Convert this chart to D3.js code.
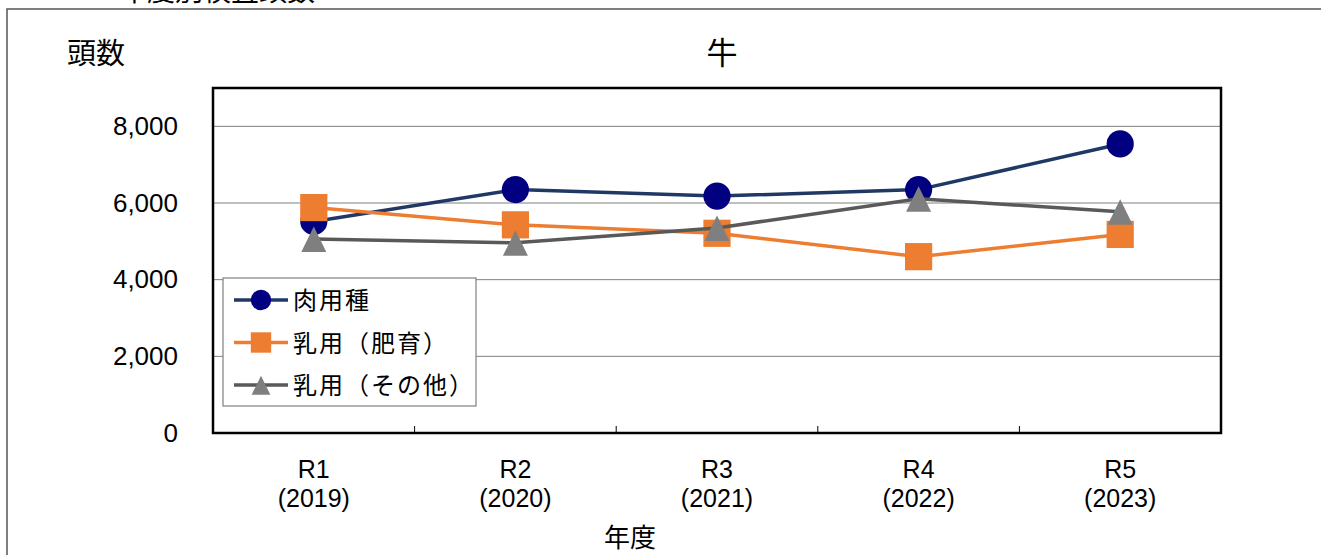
<!DOCTYPE html>
<html><head><meta charset="utf-8">
<script src="https://cdn.jsdelivr.net/npm/d3@7"></script>
<style>html,body{margin:0;padding:0;background:#fff;overflow:hidden}</style>
</head><body>
<svg id="c" width="1321" height="555"></svg>
<script>
const categories = ["R1", "R2", "R3", "R4", "R5"];
const yearLabels = ["(2019)", "(2020)", "(2021)", "(2022)", "(2023)"];
const meat = [5520, 6350, 6180, 6350, 7540];
const dairyFatten = [5880, 5430, 5210, 4600, 5180];
const dairyOther = [5060, 4960, 5350, 6110, 5770];
const seriesNames = ["肉用種", "乳用（肥育）", "乳用（その他）"];
const yTicks = [0, 2000, 4000, 6000, 8000];

const FONT = "'Noto Sans CJK JP', 'Noto Sans', sans-serif";
const LAT = "'Liberation Sans', Arial, sans-serif";
const svg = d3.select("#c");
const m = {l: 213, t: 88, r: 1221, b: 433};

const x = d3.scaleBand().domain(categories).range([m.l, m.r]);
const y = d3.scaleLinear().domain([0, 9000]).range([m.b, m.t]);

// outer frame (partial)
svg.append("path").attr("d", `M7,560 L7,9 L1330,9`).attr("fill", "none")
  .attr("stroke", "#555").attr("stroke-width", 1.5);
// clipped outer title
svg.append("text").attr("x", 217).attr("y", 1).attr("text-anchor", "middle")
  .style("font-family", FONT).style("font-size", "28px").attr("fill", "#000").text("年度別検査頭数");

// gridlines
svg.append("g").selectAll("line").data(yTicks.filter(d => d > 0)).join("line")
  .attr("x1", m.l).attr("x2", m.r).attr("y1", d => y(d)).attr("y2", d => y(d))
  .attr("stroke", "#7f7f7f").attr("stroke-width", 1);

// y axis labels
const yAxis = d3.axisLeft(y).tickValues(yTicks).tickSize(0).tickPadding(35)
  .tickFormat(d3.format(","));
const gy = svg.append("g").attr("transform", `translate(${m.l},0)`).call(yAxis);
gy.select(".domain").remove();
gy.selectAll("text").style("font-family", LAT).style("font-size", "26px").attr("fill", "#000");

// x ticks (inside, at category boundaries)
const bounds = categories.slice(1).map(c => x(c));
svg.append("g").selectAll("line").data(bounds).join("line")
  .attr("x1", d => d).attr("x2", d => d).attr("y1", m.b).attr("y2", m.b - 7)
  .attr("stroke", "#000").attr("stroke-width", 1);

// plot frame
svg.append("rect").attr("x", m.l).attr("y", m.t).attr("width", m.r - m.l).attr("height", m.b - m.t)
  .attr("fill", "none").attr("stroke", "#000").attr("stroke-width", 2.5);

// x labels
const cx = c => x(c) + x.bandwidth() / 2;
const xg = svg.append("g").style("font-family", LAT).style("font-size", "25px");
xg.selectAll("text.r").data(categories).join("text").attr("class", "r")
  .attr("x", d => cx(d)).attr("y", 478).attr("text-anchor", "middle").text(d => d);
xg.selectAll("text.yr").data(categories).join("text").attr("class", "yr")
  .attr("x", d => cx(d)).attr("y", 507).attr("text-anchor", "middle").text((d, i) => yearLabels[i]);

svg.append("text").attr("x", 630).attr("y", 547).attr("text-anchor", "middle")
  .style("font-family", FONT).style("font-size", "26px").text("年度");
svg.append("text").attr("x", 96).attr("y", 64).attr("text-anchor", "middle")
  .style("font-family", FONT).style("font-size", "29px").text("頭数");
svg.append("text").attr("x", 722).attr("y", 64).attr("text-anchor", "middle")
  .style("font-family", FONT).style("font-size", "31px").text("牛");

const series = [
  {name: seriesNames[0], vals: meat, line: "#1f3864", fill: "#000080", shape: "circle"},
  {name: seriesNames[1], vals: dairyFatten, line: "#ed7d31", fill: "#ed7d31", shape: "square"},
  {name: seriesNames[2], vals: dairyOther, line: "#595959", fill: "#7f7f7f", shape: "triangle"}
];

function drawMarker(g, shape, px, py, fill, s) {
  if (shape === "circle") {
    g.append("circle").attr("cx", px).attr("cy", py).attr("r", 13.6 * s).attr("fill", fill);
  } else if (shape === "square") {
    const h = 13.6 * s;
    g.append("rect").attr("x", px - h).attr("y", py - h).attr("width", 2 * h).attr("height", 2 * h).attr("fill", fill);
  } else {
    const w = 12.5 * s;
    g.append("path").attr("d", `M${px},${py - 12.5 * s} L${px + w},${py + 13 * s} L${px - w},${py + 13 * s} Z`).attr("fill", fill);
  }
}

const line = d3.line().x((d, i) => cx(categories[i])).y(d => y(d));
series.forEach(s => {
  const g = svg.append("g");
  g.append("path").datum(s.vals).attr("d", line).attr("fill", "none")
    .attr("stroke", s.line).attr("stroke-width", 3.5);
  s.vals.forEach((v, i) => drawMarker(g, s.shape, cx(categories[i]), y(v), s.fill, 1));
});

// legend
const lg = svg.append("g");
lg.append("rect").attr("x", 223).attr("y", 278).attr("width", 253).attr("height", 128)
  .attr("fill", "#fff").attr("stroke", "#7f7f7f").attr("stroke-width", 1.2);
series.forEach((s, i) => {
  const ry = 300 + i * 42.5;
  lg.append("line").attr("x1", 234).attr("x2", 288).attr("y1", ry).attr("y2", ry)
    .attr("stroke", s.line).attr("stroke-width", 3.5);
  drawMarker(lg, s.shape, 261, ry, s.fill, 0.75);
  lg.append("text").attr("x", 293).attr("y", ry + 9).style("font-family", FONT)
    .style("font-size", "24px").style("letter-spacing", "2px").text(s.name);
});
</script>
</body></html>
